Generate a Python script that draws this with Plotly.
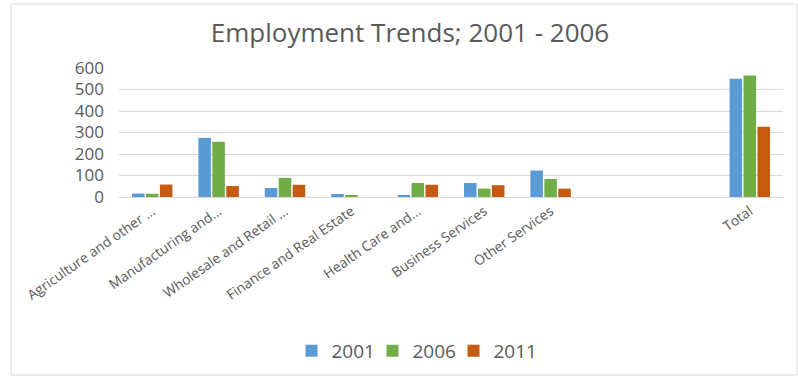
import plotly.graph_objects as go

categories = ["Agriculture and other ...", "Manufacturing and...", "Wholesale and Retail ...",
              "Finance and Real Estate", "Health Care and...", "Business Services",
              "Other Services", " ", "  ", "Total"]
years = ["2001", "2006", "2011"]
v2001 = [16, 275, 42, 14, 6, 65, 123, None, None, 550]
v2006 = [15, 257, 89, 7, 65, 39, 84, None, None, 565]
v2011 = [58, 51, 57, None, 57, 55, 39, None, None, 327]
colors = ["#5B9BD5", "#70AD47", "#C55A11"]

W, H = 798, 377
L, R, T, B = 119, 15, 68, 180
pw, ph = W - L - R, H - T - B

def px_x(x):
    return (x - L) / pw

def px_y(y):
    return (H - B - y) / ph

fig = go.Figure()
for name, vals, c in zip(years, [v2001, v2006, v2011], colors):
    fig.add_trace(go.Bar(name=name, x=categories, y=vals, marker_color=c,
                         marker_line_width=0))

font_family = "Open Sans, sans-serif"
fig.update_layout(
    width=W, height=H,
    margin=dict(l=L, r=R, t=T, b=B, autoexpand=False),
    paper_bgcolor="white", plot_bgcolor="white",
    barmode="group", bargap=0.37, bargroupgap=0.1,
    title=dict(text="Employment Trends; 2001 - 2006", x=410 / W, xanchor="center",
               y=1 - 33 / H, yanchor="middle", yref="container",
               font=dict(family=font_family, size=26, color="#595959")),
    font=dict(family=font_family, size=15, color="#595959"),
    showlegend=True,
    legend=dict(orientation="h", x=px_x(413), xanchor="center", y=px_y(351),
                yanchor="middle", font=dict(size=19, color="#595959"),
                itemwidth=30, traceorder="normal",
                entrywidth=36, entrywidthmode="pixels"),
    xaxis=dict(type="category", tickangle=-35, showgrid=False, showline=True,
               linecolor="#D9D9D9", linewidth=1, ticks="", automargin=False,
               tickfont=dict(size=13.8, color="#595959")),
    yaxis=dict(range=[0, 600], dtick=100, showgrid=True, gridcolor="#D9D9D9",
               gridwidth=1, zeroline=False, showline=False, ticks="", automargin=False,
               ticklabelstandoff=14, tickfont=dict(size=17, color="#595959")),
    shapes=[dict(type="rect", xref="paper", yref="paper",
                 x0=px_x(11), x1=px_x(797), y0=px_y(375), y1=px_y(4),
                 line=dict(color="#D9D9D9", width=1), fillcolor="rgba(0,0,0,0)",
                 layer="below")],
)

fig.write_html("out.html")
